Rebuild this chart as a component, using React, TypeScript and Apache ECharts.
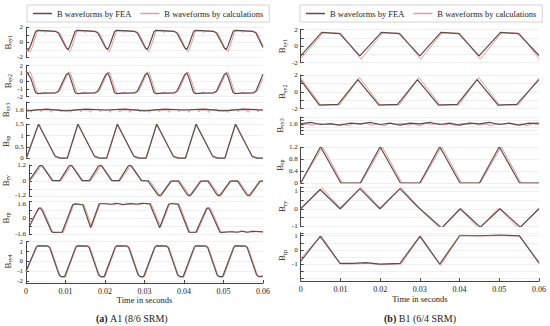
import React, { useEffect, useRef } from 'react';
import * as echarts from 'echarts';

// ---------- DATA: [time (s), B (T)] vertices ----------
// Left panel (A1, 8/6 SRM)
const lSy1Fea = [[0,-0.75],[0.0007,-0.95],[0.0012,-0.4],[0.0024,1.4],[0.0029,1.6],[0.0045,1.55],[0.0075,1.45],[0.0082,1.25],[0.0102,-0.75],
[0.0107,-0.95],[0.0112,-0.4],[0.0124,1.4],[0.0129,1.6],[0.0145,1.55],[0.0175,1.45],[0.0182,1.25],[0.0202,-0.75],
[0.0207,-0.95],[0.0212,-0.4],[0.0224,1.4],[0.0229,1.6],[0.0245,1.55],[0.0275,1.45],[0.0282,1.25],[0.0302,-0.75],
[0.0307,-0.95],[0.0312,-0.4],[0.0324,1.4],[0.0329,1.6],[0.0345,1.55],[0.0375,1.45],[0.0382,1.25],[0.0402,-0.75],
[0.0407,-0.95],[0.0412,-0.4],[0.0424,1.4],[0.0429,1.6],[0.0445,1.55],[0.0475,1.45],[0.0482,1.25],[0.0502,-0.75],
[0.0507,-0.95],[0.0512,-0.4],[0.0524,1.4],[0.0529,1.6],[0.0545,1.55],[0.0575,1.45],[0.0582,1.25],[0.06,-0.7]];
const lSy1Calc = [[0,-1.1],[0.0011,-1.25],[0.0016,-0.6],[0.0028,1.35],[0.0032,1.55],[0.0047,1.5],[0.0049,1.3],[0.0051,1.5],[0.0078,1.45],[0.0086,1.2],[0.0106,-1.0],
[0.0111,-1.25],[0.0116,-0.6],[0.0128,1.35],[0.0132,1.55],[0.0147,1.5],[0.0149,1.3],[0.0151,1.5],[0.0178,1.45],[0.0186,1.2],[0.0206,-1.0],
[0.0211,-1.25],[0.0216,-0.6],[0.0228,1.35],[0.0232,1.55],[0.0247,1.5],[0.0249,1.3],[0.0251,1.5],[0.0278,1.45],[0.0286,1.2],[0.0306,-1.0],
[0.0311,-1.25],[0.0316,-0.6],[0.0328,1.35],[0.0332,1.55],[0.0347,1.5],[0.0349,1.3],[0.0351,1.5],[0.0378,1.45],[0.0386,1.2],[0.0406,-1.0],
[0.0411,-1.25],[0.0416,-0.6],[0.0428,1.35],[0.0432,1.55],[0.0447,1.5],[0.0449,1.3],[0.0451,1.5],[0.0478,1.45],[0.0486,1.2],[0.0506,-1.0],
[0.0511,-1.25],[0.0516,-0.6],[0.0528,1.35],[0.0532,1.55],[0.0547,1.5],[0.0549,1.3],[0.0551,1.5],[0.0578,1.45],[0.0586,1.2],[0.06,-0.5]];

const lSy2Fea = [[0,1.3],[0.0012,0.4],[0.0024,-1.45],[0.0029,-1.6],[0.0045,-1.55],[0.0075,-1.5],[0.0082,-1.3],[0.0102,0.85],[0.0107,1.05],
[0.0112,0.5],[0.0124,-1.45],[0.0129,-1.6],[0.0145,-1.55],[0.0175,-1.5],[0.0182,-1.3],[0.0202,0.85],[0.0207,1.05],
[0.0212,0.5],[0.0224,-1.45],[0.0229,-1.6],[0.0245,-1.55],[0.0275,-1.5],[0.0282,-1.3],[0.0302,0.85],[0.0307,1.05],
[0.0312,0.5],[0.0324,-1.45],[0.0329,-1.6],[0.0345,-1.55],[0.0375,-1.5],[0.0382,-1.3],[0.0402,0.85],[0.0407,1.05],
[0.0412,0.5],[0.0424,-1.45],[0.0429,-1.6],[0.0445,-1.55],[0.0475,-1.5],[0.0482,-1.3],[0.0502,0.85],[0.0507,1.05],
[0.0512,0.5],[0.0524,-1.45],[0.0529,-1.6],[0.0545,-1.55],[0.0575,-1.5],[0.0582,-1.3],[0.06,0.9]];
const lSy2Calc = [[0,1.0],[0.0011,1.2],[0.0016,0.5],[0.0028,-1.4],[0.0032,-1.6],[0.0047,-1.55],[0.0049,-1.35],[0.0051,-1.55],[0.0078,-1.5],[0.0086,-1.25],[0.0106,1.0],
[0.0111,1.2],[0.0116,0.5],[0.0128,-1.4],[0.0132,-1.6],[0.0147,-1.55],[0.0149,-1.35],[0.0151,-1.55],[0.0178,-1.5],[0.0186,-1.25],[0.0206,1.0],
[0.0211,1.2],[0.0216,0.5],[0.0228,-1.4],[0.0232,-1.6],[0.0247,-1.55],[0.0249,-1.35],[0.0251,-1.55],[0.0278,-1.5],[0.0286,-1.25],[0.0306,1.0],
[0.0311,1.2],[0.0316,0.5],[0.0328,-1.4],[0.0332,-1.6],[0.0347,-1.55],[0.0349,-1.35],[0.0351,-1.55],[0.0378,-1.5],[0.0386,-1.25],[0.0406,1.0],
[0.0411,1.2],[0.0416,0.5],[0.0428,-1.4],[0.0432,-1.6],[0.0447,-1.55],[0.0449,-1.35],[0.0451,-1.55],[0.0478,-1.5],[0.0486,-1.25],[0.0506,1.0],
[0.0511,1.2],[0.0516,0.5],[0.0528,-1.4],[0.0532,-1.6],[0.0547,-1.55],[0.0549,-1.35],[0.0551,-1.55],[0.0578,-1.5],[0.0586,-1.25],[0.06,0.35]];

const lSy3Fea = [[0,1.59],[0.005,1.61],[0.01,1.59],[0.015,1.61],[0.02,1.6],[0.025,1.61],[0.03,1.59],[0.035,1.61],[0.04,1.6],[0.045,1.61],[0.05,1.59],[0.055,1.61],[0.06,1.6]];
const lSy3Calc = [[0,1.6],[0.0009,1.6],[0.0012,1.57],[0.0015,1.6],[0.0034,1.61],[0.0037,1.575],[0.004,1.6],[0.0059,1.6],[0.0062,1.57],[0.0065,1.6],[0.0084,1.61],[0.0087,1.575],[0.009,1.6],
[0.0109,1.6],[0.0112,1.57],[0.0115,1.6],[0.0134,1.61],[0.0137,1.575],[0.014,1.6],[0.0159,1.6],[0.0162,1.57],[0.0165,1.6],[0.0184,1.61],[0.0187,1.575],[0.019,1.6],
[0.0209,1.6],[0.0212,1.57],[0.0215,1.6],[0.0234,1.61],[0.0237,1.575],[0.024,1.6],[0.0259,1.6],[0.0262,1.57],[0.0265,1.6],[0.0284,1.61],[0.0287,1.575],[0.029,1.6],
[0.0309,1.6],[0.0312,1.57],[0.0315,1.6],[0.0334,1.61],[0.0337,1.575],[0.034,1.6],[0.0359,1.6],[0.0362,1.57],[0.0365,1.6],[0.0384,1.61],[0.0387,1.575],[0.039,1.6],
[0.0409,1.6],[0.0412,1.57],[0.0415,1.6],[0.0434,1.61],[0.0437,1.575],[0.044,1.6],[0.0459,1.6],[0.0462,1.57],[0.0465,1.6],[0.0484,1.61],[0.0487,1.575],[0.049,1.6],
[0.0509,1.6],[0.0512,1.57],[0.0515,1.6],[0.0534,1.61],[0.0537,1.575],[0.054,1.6],[0.0559,1.6],[0.0562,1.57],[0.0565,1.6],[0.0584,1.61],[0.0587,1.575],[0.059,1.6],[0.06,1.6]];

const lSpFea = [[0,0.05],[0.003,1.5],[0.0072,0.1],[0.0085,0.01],[0.0103,0.01],[0.013,1.5],[0.0172,0.1],[0.0185,0.01],[0.0203,0.01],[0.023,1.5],[0.0272,0.1],[0.0285,0.01],[0.0303,0.01],
[0.033,1.5],[0.0372,0.1],[0.0385,0.01],[0.0403,0.01],[0.043,1.5],[0.0472,0.1],[0.0485,0.01],[0.0503,0.01],[0.053,1.5],[0.0572,0.1],[0.0585,0.01],[0.06,0.01]];
const lSpCalc = [[0,0],[0.0031,1.52],[0.0074,0.02],[0.0104,0],[0.0131,1.52],[0.0174,0.02],[0.0204,0],[0.0231,1.52],[0.0274,0.02],[0.0304,0],[0.0331,1.52],[0.0374,0.02],[0.0404,0],
[0.0431,1.52],[0.0474,0.02],[0.0504,0],[0.0531,1.52],[0.0574,0.02],[0.06,0]];

const lRyFea = [[0,0],[0.0026,1.1],[0.003,1.18],[0.0035,1.1],[0.006,0.02],[0.0079,0.02],
[0.0102,1.1],[0.0106,1.18],[0.0111,1.1],[0.0136,0.02],[0.0155,0.02],
[0.0178,1.1],[0.0182,1.18],[0.0187,1.1],[0.0212,0.02],[0.0231,0.02],
[0.0254,1.1],[0.0258,1.18],[0.0263,1.1],[0.0288,0.02],[0.0305,0],
[0.033,-1.05],[0.0334,-1.12],[0.0339,-1.05],[0.0364,-0.02],[0.0383,-0.02],
[0.0406,-1.05],[0.041,-1.12],[0.0415,-1.05],[0.044,-0.02],[0.0459,-0.02],
[0.0482,-1.05],[0.0486,-1.12],[0.0491,-1.05],[0.0516,-0.02],[0.0535,-0.02],
[0.0558,-1.05],[0.0562,-1.12],[0.0567,-1.05],[0.0592,-0.02],[0.06,-0.02]];
const lRyCalc = [[0,0],[0.0003,0],[0.0034,1.2],[0.0063,0],[0.0082,0],[0.011,1.2],[0.0139,0],[0.0158,0],[0.0186,1.2],[0.0215,0],[0.0234,0],[0.0262,1.2],[0.0291,0],[0.031,0],
[0.0338,-1.2],[0.0367,0],[0.0386,0],[0.0414,-1.2],[0.0443,0],[0.0462,0],[0.049,-1.2],[0.0519,0],[0.0538,0],[0.0566,-1.2],[0.0595,0],[0.06,0]];

const lRpFea = [[0,-0.9],[0.0024,0.9],[0.0028,1.0],[0.0033,0.8],[0.0058,-1.35],[0.0062,-1.42],[0.0085,-1.4],[0.0112,1.3],[0.0118,1.38],[0.0138,1.3],[0.0158,-0.95],
[0.018,1.4],[0.0195,1.4],[0.021,1.35],[0.0225,1.45],[0.024,1.3],[0.026,1.42],[0.0275,1.35],[0.029,1.45],[0.031,1.38],[0.0335,-0.95],[0.0358,1.35],[0.0364,1.42],[0.0382,1.35],
[0.041,-1.4],[0.0428,-1.4],[0.0455,0.9],[0.0459,1.0],[0.0463,0.85],[0.049,-1.42],[0.052,-1.35],[0.0535,-1.4],[0.0548,-1.3],[0.056,-1.4],[0.0575,-1.32],[0.06,-1.35]];
const lRpCalc = [[0,-0.5],[0.001,0.0],[0.0027,0.95],[0.0031,1.05],[0.0036,0.85],[0.0061,-1.4],[0.0065,-1.45],[0.0088,-1.42],[0.0115,1.35],[0.012,1.4],[0.0141,1.3],[0.0161,-0.85],
[0.0183,1.45],[0.02,1.42],[0.0215,1.3],[0.023,1.42],[0.0245,1.35],[0.0265,1.45],[0.0282,1.3],[0.0295,1.42],[0.0313,1.4],[0.0338,-0.85],[0.0361,1.4],[0.0367,1.45],[0.0385,1.38],
[0.0413,-1.42],[0.0431,-1.42],[0.0458,0.95],[0.0462,1.05],[0.0466,0.9],[0.0493,-1.45],[0.052,-1.3],[0.053,-1.4],[0.0545,-1.25],[0.0555,-1.42],[0.057,-1.28],[0.06,-1.4]];

const lSy4Fea = [[0,-1.0],[0.0026,1.45],[0.003,1.58],[0.0055,1.55],[0.006,1.4],[0.0084,-1.4],[0.0089,-1.55],[0.0098,-1.55],
[0.0126,1.45],[0.013,1.58],[0.0155,1.55],[0.016,1.4],[0.0184,-1.4],[0.0189,-1.55],[0.0198,-1.55],
[0.0226,1.45],[0.023,1.58],[0.0255,1.55],[0.026,1.4],[0.0284,-1.4],[0.0289,-1.55],[0.0298,-1.55],
[0.0326,1.45],[0.033,1.58],[0.0355,1.55],[0.036,1.4],[0.0384,-1.4],[0.0389,-1.55],[0.0398,-1.55],
[0.0426,1.45],[0.043,1.58],[0.0455,1.55],[0.046,1.4],[0.0484,-1.4],[0.0489,-1.55],[0.0498,-1.55],
[0.0526,1.45],[0.053,1.58],[0.0555,1.55],[0.056,1.4],[0.0584,-1.4],[0.0589,-1.55],[0.06,-1.5]];
const lSy4Calc = [[0,-1.1],[0.0028,1.5],[0.0032,1.62],[0.0057,1.58],[0.0062,1.42],[0.0086,-1.45],[0.0091,-1.6],[0.01,-1.58],
[0.0128,1.5],[0.0132,1.62],[0.0157,1.58],[0.0162,1.42],[0.0186,-1.45],[0.0191,-1.6],[0.02,-1.58],
[0.0228,1.5],[0.0232,1.62],[0.0257,1.58],[0.0262,1.42],[0.0286,-1.45],[0.0291,-1.6],[0.03,-1.58],
[0.0328,1.5],[0.0332,1.62],[0.0357,1.58],[0.0362,1.42],[0.0386,-1.45],[0.0391,-1.6],[0.04,-1.58],
[0.0428,1.5],[0.0432,1.62],[0.0457,1.58],[0.0462,1.42],[0.0486,-1.45],[0.0491,-1.6],[0.05,-1.58],
[0.0528,1.5],[0.0532,1.62],[0.0557,1.58],[0.0562,1.42],[0.0586,-1.45],[0.0591,-1.6],[0.06,-1.55]];

// Right panel (B1, 6/4 SRM)
const rSy1Fea = [[0,-1.2],[0.0053,1.65],[0.0098,1.5],[0.0149,-1.2],[0.0203,1.65],[0.0248,1.5],[0.03,-1.2],[0.0353,1.65],[0.0398,1.5],[0.0449,-1.2],[0.0503,1.65],[0.0548,1.5],[0.06,-1.15]];
const rSy1Calc = [[0,-1.55],[0.0057,1.6],[0.0101,1.55],[0.0152,-1.6],[0.0206,1.6],[0.0251,1.55],[0.0302,-1.6],[0.0356,1.6],[0.0401,1.55],[0.0452,-1.6],[0.0506,1.6],[0.0551,1.55],[0.06,-1.55]];
const rSy2Fea = [[0,1.4],[0.0047,-1.6],[0.0094,-1.5],[0.0144,1.45],[0.0197,-1.6],[0.0244,-1.5],[0.0294,1.45],[0.0347,-1.6],[0.0394,-1.5],[0.0444,1.45],[0.0497,-1.6],[0.0544,-1.5],[0.06,1.45]];
const rSy2Calc = [[0,1.7],[0.005,-1.55],[0.0098,-1.6],[0.0148,1.7],[0.02,-1.55],[0.0248,-1.6],[0.0298,1.7],[0.035,-1.55],[0.0398,-1.6],[0.0448,1.7],[0.05,-1.55],[0.0548,-1.6],[0.06,1.65]];
const rSy3Fea = [[0,1.6],[0.0025,1.62],[0.005,1.59],[0.0075,1.6],[0.01,1.58],[0.0125,1.61],[0.015,1.6],[0.0175,1.62],[0.02,1.59],[0.0225,1.61],[0.025,1.58],[0.0275,1.61],[0.03,1.6],
[0.0325,1.62],[0.035,1.59],[0.0375,1.61],[0.04,1.58],[0.0425,1.61],[0.045,1.6],[0.0475,1.62],[0.05,1.59],[0.0525,1.61],[0.055,1.58],[0.0575,1.61],[0.06,1.6]];
const rSy3Calc = [[0,1.57],[0.0015,1.6],[0.003,1.58],[0.0045,1.61],[0.006,1.59],[0.0075,1.61],[0.009,1.58],[0.0105,1.6],[0.012,1.57],[0.0135,1.61],[0.015,1.59],[0.0165,1.61],[0.018,1.58],
[0.0195,1.6],[0.021,1.57],[0.0225,1.61],[0.024,1.59],[0.0255,1.61],[0.027,1.58],[0.0285,1.6],[0.03,1.57],[0.0315,1.61],[0.033,1.59],[0.0345,1.61],[0.036,1.58],[0.0375,1.6],
[0.039,1.57],[0.0405,1.61],[0.042,1.59],[0.0435,1.61],[0.045,1.58],[0.0465,1.6],[0.048,1.57],[0.0495,1.61],[0.051,1.59],[0.0525,1.61],[0.054,1.58],[0.0555,1.6],[0.057,1.57],[0.0585,1.61],[0.06,1.62]];
const rSpFea = [[0,0],[0.005,1.22],[0.0101,0],[0.015,0],[0.02,1.22],[0.0251,0],[0.03,0],[0.035,1.22],[0.0401,0],[0.045,0],[0.05,1.22],[0.0551,0],[0.06,0]];
const rSpCalc = [[0,0],[0.0055,1.22],[0.0105,0],[0.0152,0],[0.0205,1.22],[0.0255,0],[0.0302,0],[0.0355,1.22],[0.0405,0],[0.0452,0],[0.0505,1.22],[0.0555,0],[0.06,0]];
const rRyFea = [[0,0],[0.0049,1.1],[0.0099,0],[0.0149,1.15],[0.0199,0],[0.025,1.15],[0.0295,0.1],[0.031,-0.2],[0.0355,-1.1],[0.0402,0],[0.0452,-1.05],[0.0502,0],[0.0553,-1.05],[0.06,0]];
const rRyCalc = [[0,0],[0.0053,1.2],[0.0102,0],[0.0152,1.22],[0.0202,0],[0.0253,1.22],[0.03,0],[0.0352,-1.15],[0.04,0],[0.045,-1.15],[0.0498,0.05],[0.055,-1.15],[0.06,0.05]];
const rRpFea = [[0,-0.8],[0.0049,0.95],[0.0099,-0.95],[0.013,-0.95],[0.0165,-0.9],[0.02,-1.0],[0.025,-0.95],[0.03,0.95],[0.035,-1.0],[0.04,1.0],[0.045,1.0],[0.05,1.05],[0.055,1.0],[0.06,-0.9]];
const rRpCalc = [[0,-0.6],[0.0052,1.0],[0.01,-1.0],[0.013,-1.0],[0.017,-0.95],[0.02,-1.05],[0.0253,-1.0],[0.0302,1.0],[0.0352,-1.1],[0.0402,1.05],[0.045,0.98],[0.05,1.0],[0.0553,0.97],[0.06,-1.0]];

// Tick label values shown on each y axis
const ticksPm2Even = [-2, 0, 2];
const ticksPm2All = [-2, -1, 0, 1, 2];
const ticks16 = [1.6];
const ticksLSp = [0, 0.5, 1, 1.5];
const ticksLRy = [-1.2, 0, 1.2];
const ticksLRp = [-1.6, 0, 1.6];
const ticksRSp = [0, 0.4, 0.8, 1.2];
const ticksR1 = [-1, 0, 1];

const LEGEND_NAMES = ['B waveforms by FEA', 'B waveforms by calculations'];
const X_LABEL = 'Time in seconds';
const CAPTIONS = [['(a)', ' A1 (8/6 SRM)'], ['(b)', ' B1 (6/4 SRM)']];

// ---------- STYLE / LAYOUT ----------
const FONT = "'Liberation Serif', 'DejaVu Serif', serif";
const FEA_C = '#5f4c49';
const CALC_C = '#e69c9c';
const AXIS_C = '#444444';
const TXT_C = '#222222';

type Plot = {
  sub: string; fea: number[][]; calc: number[][]; top: number; height: number;
  min: number; max: number; interval: number; labels: number[]; xOffset?: number;
  minUp?: boolean; maxDown?: boolean;
};

const leftPlots: Plot[] = [
  { sub: 'sy1', fea: lSy1Fea, calc: lSy1Calc, top: 27.3, height: 30, min: -2, max: 2, interval: 1, labels: ticksPm2Even },
  { sub: 'sy2', fea: lSy2Fea, calc: lSy2Calc, top: 65.7, height: 31, min: -2, max: 2, interval: 1, labels: ticksPm2All },
  { sub: 'sy3', fea: lSy3Fea, calc: lSy3Calc, top: 102, height: 16, min: 1.5, max: 1.7, interval: 0.1, labels: ticks16 },
  { sub: 'sp', fea: lSpFea, calc: lSpCalc, top: 124.3, height: 34, min: 0, max: 1.5, interval: 0.5, labels: ticksLSp },
  { sub: 'ry', fea: lRyFea, calc: lRyCalc, top: 165, height: 31.7, min: -1.2, max: 1.2, interval: 0.6, labels: ticksLRy, minUp: true },
  { sub: 'rp', fea: lRpFea, calc: lRpCalc, top: 201.7, height: 32.6, min: -1.6, max: 1.6, interval: 0.8, labels: ticksLRp, maxDown: true },
  { sub: 'sy4', fea: lSy4Fea, calc: lSy4Calc, top: 241.7, height: 39.3, min: -2, max: 2, interval: 1, labels: ticksPm2All, xOffset: 2 },
];
const rightPlots: Plot[] = [
  { sub: 'sy1', fea: rSy1Fea, calc: rSy1Calc, top: 29.5, height: 33, min: -2, max: 2, interval: 1, labels: ticksPm2Even },
  { sub: 'sy2', fea: rSy2Fea, calc: rSy2Calc, top: 75, height: 33.5, min: -2, max: 2, interval: 1, labels: ticksPm2Even },
  { sub: 'sy3', fea: rSy3Fea, calc: rSy3Calc, top: 117, height: 17, min: 1.45, max: 1.7, interval: 0.05, labels: ticks16 },
  { sub: 'sp', fea: rSpFea, calc: rSpCalc, top: 147.3, height: 35.7, min: 0, max: 1.2, interval: 0.4, labels: ticksRSp },
  { sub: 'ry', fea: rRyFea, calc: rRyCalc, top: 186.9, height: 39.4, min: -1, max: 1.25, interval: 0.5, labels: ticksR1 },
  { sub: 'rp', fea: rRpFea, calc: rRpCalc, top: 232.9, height: 45.3, min: -2, max: 1.2, interval: 0.5, labels: ticksR1, xOffset: 3 },
];

const fmt = (v: number) => {
  const r = Math.round(v * 100) / 100;
  return Math.abs(r) < 1e-9 ? '0' : String(r);
};

function buildOption() {
  const grid: any[] = [], xAxis: any[] = [], yAxis: any[] = [], series: any[] = [];
  const panels = [
    { left: 26, width: 237, plots: leftPlots },
    { left: 300.7, width: 238.3, plots: rightPlots },
  ];
  const labelRich = {
    up: { fontSize: 7, fontFamily: FONT, color: TXT_C, padding: [0, 0, 4, 0] },
    dn: { fontSize: 7, fontFamily: FONT, color: TXT_C, padding: [4, 0, 0, 0] },
  };
  panels.forEach((p) => {
    p.plots.forEach((pl, j) => {
      const i = grid.length;
      const last = j === p.plots.length - 1;
      grid.push({ left: p.left, width: p.width, top: pl.top, height: pl.height });
      xAxis.push({
        gridIndex: i, type: 'value', min: 0, max: 0.06, interval: 0.01, show: last,
        offset: pl.xOffset || 0,
        axisLine: { show: true, onZero: false, lineStyle: { color: AXIS_C, width: 1 } },
        axisTick: { show: true, inside: true, length: 3, lineStyle: { color: AXIS_C } },
        axisLabel: { fontSize: 8, color: TXT_C, fontFamily: FONT, margin: 4, formatter: (v: number) => fmt(v) },
        splitLine: { show: false },
        name: last ? X_LABEL : '', nameLocation: 'middle', nameGap: 12,
        nameTextStyle: { fontSize: 8.5, fontFamily: FONT, color: TXT_C },
      });
      yAxis.push({
        gridIndex: i, type: 'value', min: pl.min, max: pl.max, interval: pl.interval,
        axisLine: { show: true, onZero: false, lineStyle: { color: AXIS_C, width: 1 } },
        axisTick: { show: true, inside: true, length: 3, lineStyle: { color: AXIS_C } },
        axisLabel: {
          fontSize: 7, lineHeight: 5, color: TXT_C, fontFamily: FONT, margin: 3, rich: labelRich,
          formatter: (v: number) => {
            if (!pl.labels.some((l) => Math.abs(l - v) < 1e-6)) return '';
            const s = fmt(v);
            if (pl.minUp && Math.abs(v - pl.min) < 1e-6) return `{up|${s}}`;
            if (pl.maxDown && Math.abs(v - pl.max) < 1e-6) return `{dn|${s}}`;
            return s;
          },
        },
        splitLine: { show: true, lineStyle: { color: '#ececec', width: 0.8 } },
        name: `{b|B}{s|${pl.sub}}`, nameLocation: 'middle', nameRotate: 90, nameGap: 12,
        nameTextStyle: {
          color: TXT_C, fontFamily: FONT,
          rich: {
            b: { fontSize: 9, fontFamily: FONT, color: TXT_C, lineHeight: 11 },
            s: { fontSize: 6, fontFamily: FONT, color: TXT_C, verticalAlign: 'bottom', lineHeight: 11, padding: [4, 0, 0, 0] },
          },
        },
      });
      series.push({
        type: 'line', name: LEGEND_NAMES[1], xAxisIndex: i, yAxisIndex: i, data: pl.calc,
        symbol: 'none', showSymbol: false, lineStyle: { color: CALC_C, width: 1 }, itemStyle: { color: CALC_C }, z: 2, silent: true,
      });
      series.push({
        type: 'line', name: LEGEND_NAMES[0], xAxisIndex: i, yAxisIndex: i, data: pl.fea,
        symbol: 'none', showSymbol: false, lineStyle: { color: FEA_C, width: 1.2 }, itemStyle: { color: FEA_C }, z: 3, silent: true,
      });
    });
  });

  const legendBase = {
    top: 5, width: 262, icon: 'rect', itemWidth: 19, itemHeight: 1.5, itemGap: 9,
    selectedMode: false, borderColor: '#c8c8c8', borderWidth: 0.8, padding: [4, 6, 4, 6],
    textStyle: { fontSize: 8.5, fontFamily: FONT, color: TXT_C },
    data: LEGEND_NAMES,
  };

  const captionX = [132, 420];
  const graphic: any[] = [];
  CAPTIONS.forEach((c, k) => {
    graphic.push({
      type: 'text', x: captionX[k], y: 318,
      style: {
        text: `{b|${c[0]}}{n|${c[1]}}`, align: 'center', verticalAlign: 'middle',
        rich: {
          b: { fontSize: 10, fontWeight: 'bold', fontFamily: FONT, fill: TXT_C },
          n: { fontSize: 10, fontFamily: FONT, fill: TXT_C },
        },
      },
    });
  });

  return {
    animation: false,
    backgroundColor: '#ffffff',
    grid, xAxis, yAxis, series,
    legend: [
      { ...legendBase, left: 27 },
      { ...legendBase, left: 300 },
    ],
    graphic,
  };
}

export default function App() {
  const ref = useRef<HTMLDivElement>(null);
  useEffect(() => {
    if (!ref.current) return;
    const chart = echarts.init(ref.current, null, { renderer: 'svg' });
    chart.setOption(buildOption() as any);
    return () => chart.dispose();
  }, []);
  return (
    <div
      ref={ref}
      style={{ position: 'absolute', left: 0, top: 0, width: 550, height: 326, background: '#fff' }}
    />
  );
}
